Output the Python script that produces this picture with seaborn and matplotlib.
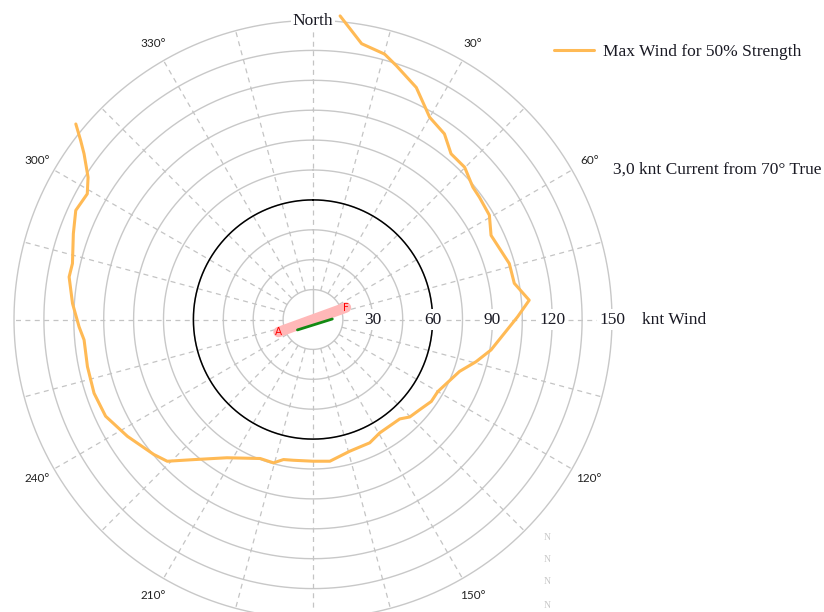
import numpy as np
import matplotlib
matplotlib.use('Agg')
import matplotlib.pyplot as plt
import seaborn as sns

# orange curve: heading (deg true, clockwise from north) and max wind in knots
heading = [5.1, 10.0, 15.1, 18.2, 24.0, 30.0, 35.3, 39.8, 44.9, 50.4, 53.7,
           59.4, 64.7, 74.1, 79.8, 84.9, 89.2, 99.7, 104.5, 109.5, 120.0,
           124.7, 130.2, 135.2, 138.9, 149.5, 155.3, 164.4, 168.9, 173.2,
           179.9, 187.9, 191.9, 195.4, 200.8, 211.9, 220.4, 225.8, 229.7,
           237.8, 245.0, 251.4, 258.2, 264.9, 268.2, 273.8, 279.9, 283.1,
           289.7, 294.7, 299.1, 302.3, 305.9, 307.6, 309.5]
max_wind = [152.9, 140.5, 137.9, 134.0, 127.4, 117.1, 114.1, 108.2, 107.8,
            104.1, 103.6, 102.8, 98.8, 102.4, 102.6, 108.9, 102.7, 90.6,
            84.5, 78.0, 72.3, 72.2, 70.1, 68.9, 66.2, 66.0, 68.1, 68.6,
            69.9, 71.6, 71.1, 71.3, 71.8, 74.6, 74.6, 81.7, 92.3, 102.0,
            104.7, 110.0, 114.8, 115.9, 115.6, 115.3, 117.4, 120.9, 124.2,
            123.9, 127.7, 131.0, 129.6, 133.5, 141.8, 147.1, 154.2]

# current line A -> F and drift line
current_theta = [250, 70]
current_r = [18.4, 17.6]
drift_theta = [236.2, 88.5]
drift_r = [9.4, 9.7]

ring_levels = list(range(15, 151, 15))
ring_labels = [30, 60, 90, 120, 150]
bearing_labels = [30, 60, 120, 150, 210, 240, 300, 330]
boat_ring = 60

sns.set_style('white')
plt.rcParams['font.family'] = ['Liberation Serif', 'DejaVu Serif']
txt_col = '#1a1a24'

W, H = 824, 612
cx, cy, R = 313, 319.5, 299
fig = plt.figure(figsize=(W / 100, H / 100), dpi=100)
ax = fig.add_axes([(cx - R) / W, (H - cy - R) / H, 2 * R / W, 2 * R / H],
                  projection='polar')
ax.set_theta_zero_location('N')
ax.set_theta_direction(-1)
ax.set_ylim(0, 150)
ax.grid(False)
ax.set_xticks([])
ax.set_yticks([])
ax.spines['polar'].set_visible(False)

# grid rings and spokes
t = np.linspace(0, 2 * np.pi, 721)
for lev in ring_levels:
    ax.plot(t, np.full_like(t, lev), color='#c8c8c8', lw=1.0, zorder=1, clip_on=False)
for a in range(0, 360, 15):
    ax.plot([np.deg2rad(a)] * 2, [15, 150], color='#c4c4c4', lw=0.9,
            ls=(0, (4, 3.5)), zorder=1, clip_on=False)
ax.plot([0, 0], [0, 15], color='#c8c8c8', lw=1.0, zorder=1)
ax.plot(t, np.full_like(t, boat_ring), color='black', lw=1.1, zorder=2)

# max wind curve
sns.lineplot(x=np.deg2rad(heading), y=max_wind, ax=ax, sort=False,
             color='#ffba55', lw=2.2, label='Max Wind for 50% Strength',
             zorder=5, clip_on=False)

# current and drift
ax.plot(np.deg2rad(current_theta), current_r, color='#ffb8b8', lw=7.5,
        solid_capstyle='round', zorder=4)
ax.plot(np.deg2rad(drift_theta), drift_r, color='#138a13', lw=2, zorder=5)
ax.text(np.deg2rad(current_theta[0]), current_r[0], 'A', color='red', fontsize=7.5,
        family='DejaVu Sans', ha='center', va='center', zorder=6)
ax.text(np.deg2rad(current_theta[1]), current_r[1], 'F', color='red', fontsize=7.5,
        family='DejaVu Sans', ha='center', va='center', zorder=6)

# labels
for lev in ring_labels:
    ax.text(np.pi / 2, lev, str(lev), ha='center', va='center', fontsize=12.5,
            color=txt_col, bbox=dict(fc='white', ec='none', pad=1.5), zorder=3)
ax.text(np.pi / 2, 165, 'knt Wind', ha='left', va='center', fontsize=12.5,
        color=txt_col)
ax.text(0, 149.5, 'North', ha='center', va='center', fontsize=12.5, color=txt_col,
        bbox=dict(fc='white', ec='none', pad=1), zorder=3)
for a in bearing_labels:
    ax.text(np.deg2rad(a), 160, f'{a}°', ha='center', va='center', fontsize=8.5,
            family='Lato', color='#222222')

leg = ax.legend(loc='center left', bbox_to_anchor=(554 / W, 1 - 52 / H),
                bbox_transform=fig.transFigure, frameon=False, fontsize=12.5,
                handlelength=2.3, handletextpad=0.5, borderpad=0, borderaxespad=0)
for tx in leg.get_texts():
    tx.set_color(txt_col)
fig.text(613 / W, 1 - 170 / H, '3,0 knt Current from 70° True', fontsize=12.5,
         va='center', ha='left', color=txt_col)
for yy in [538, 560, 582, 605]:
    fig.text(547 / W, 1 - yy / H, 'N', fontsize=7, color='#c8c8c8',
             ha='center', va='center')

fig.savefig('out.png', dpi=100)
